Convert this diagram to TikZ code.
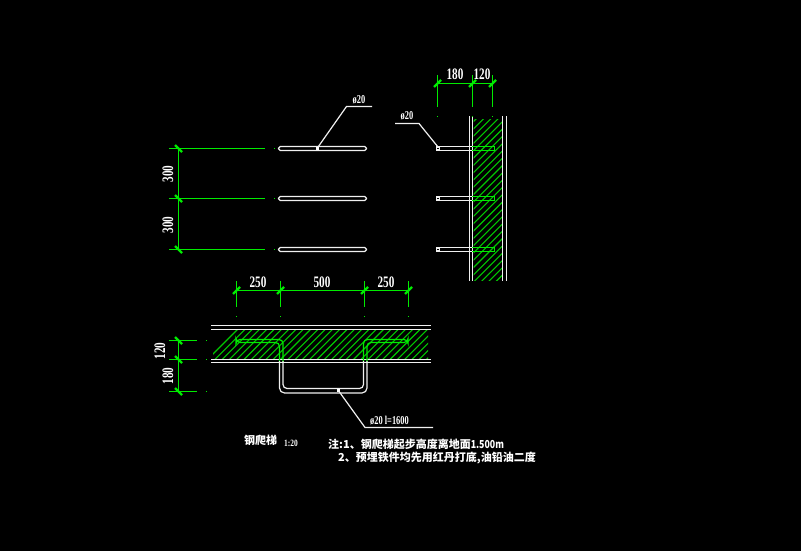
\documentclass[tikz,border=0pt]{standalone}
\usepackage{fontspec}
\setmainfont{Liberation Serif}
\newfontfamily\cjk{Noto Sans CJK SC}
\definecolor{cadgreen}{RGB}{0,235,0}
\definecolor{hatchgreen}{RGB}{0,200,0}
\definecolor{cadwhite}{RGB}{240,240,240}
\tikzset{
  x=1pt,y=-1pt,
  gline/.style={draw=cadgreen,line width=1.2pt},
  wline/.style={draw=cadwhite,line width=1.2pt},
  rebar/.style={draw=cadwhite,line width=1.2pt,rounded corners=1.8pt},
  tickmark/.style={draw=cadgreen,line width=2.4pt},
  hatchline/.style={draw=hatchgreen,line width=1.1pt},
  dimtext/.style={text=white,inner sep=0pt,font=\bfseries\fontsize{16}{16}\selectfont},
  smalltext/.style={text=white,inner sep=0pt,font=\bfseries\fontsize{12}{12}\selectfont},
  cjktext/.style={text=white,inner sep=0pt,anchor=west,font=\cjk\bfseries\fontsize{11}{13}\selectfont},
  dotmark/.style={fill=cadgreen,inner sep=0pt,minimum size=1.6pt,shape=rectangle},
}
\newcommand{\narrow}[1]{\scalebox{.7}[1]{#1}}
\newcommand{\ticku}[1]{\draw[tickmark] ([shift={(-3.5,3.5)}]#1) -- ([shift={(3.5,-3.5)}]#1);}
\newcommand{\tickd}[1]{\draw[tickmark] ([shift={(-3.5,-3.5)}]#1) -- ([shift={(3.5,3.5)}]#1);}
\begin{document}
\begin{tikzpicture}
\fill[black] (0,0) rectangle (801,551);
\useasboundingbox (0,0) rectangle (801,551);

% ---- left elevation
\foreach \n/\y in {a/148.5,b/198.5,c/249.5}{
  \coordinate (d\n) at (178.5,\y);
  \coordinate (e\n) at (169,\y);
  \coordinate (f\n) at (265,\y);
  \draw[gline] (e\n) -- (f\n);
  \node[dotmark] (p\n) at (274.5,\y) {};
  \tickd{d\n}
  \draw[rebar] (278.5,\y-2) rectangle (366.5,\y+2);
}
\draw[gline] (da) -- (dc);
\node[dimtext,rotate=90] (t300a) at (168,174) {\narrow{300}};
\node[dimtext,rotate=90] (t300b) at (168,225) {\narrow{300}};
\coordinate (l1a) at (317,148.5);
\coordinate (l1b) at (346.5,106.5);
\coordinate (l1c) at (372,106.5);
\draw[wline] (l1a) -- (l1b) -- (l1c);
\fill[white] (316,147.3) rectangle (318.5,149.8);
\node[smalltext] (phi1) at (359,99.5) {\narrow{ø20}};

% ---- right section (wall)
\begin{scope}
  \clip (473.5,119) rectangle (502,280.5);
  \foreach \k in {0,...,30}{
    \draw[hatchline] (470,125+\k*7.3) -- (505,125+\k*7.3-35);
  }
\end{scope}
\foreach \x in {469.5,472.5,502.5,506.5}{
  \draw[wline] (\x,116) -- (\x,280.5);
}
\foreach \n/\y in {a/148.5,b/198.5,c/249.5}{
  \draw[wline] (437,\y-2) -- (472,\y-2);
  \draw[wline] (437,\y+2) -- (472,\y+2);
  \draw[gline] (472,\y-2) -- (494.5,\y-2) -- (494.5,\y+2) -- (472,\y+2);
  \draw[wline,fill=black] (436.5,\y-1.5) rectangle (439.5,\y+1.5);
}
\foreach \n/\x in {a/437.5,b/472.5,c/492.5}{
  \coordinate (g\n) at (\x,83.5);
  \draw[gline] (\x,75) -- (\x,107);
  \node[dotmark] (q\n) at (\x,116.5) {};
  \ticku{g\n}
}
\draw[gline] (ga) -- (gc);
\node[dimtext] (t180a) at (455,74) {\narrow{180}};
\node[dimtext] (t120a) at (482,74) {\narrow{120}};
\coordinate (l2a) at (438,147);
\coordinate (l2b) at (419,123.5);
\coordinate (l2c) at (395,123.5);
\draw[wline] (l2a) -- (l2b) -- (l2c);
\node[smalltext] (phi2) at (407,116) {\narrow{ø20}};

% ---- bottom section (slab)
\begin{scope}
  \clip (213,330.5) rectangle (428,358.5);
  \foreach \k in {0,...,32}{
    \draw[hatchline] (205+\k*7.3,362) -- (240+\k*7.3,327);
  }
\end{scope}
\foreach \y in {325.5,329.5,359.5,362.5}{
  \draw[wline] (211,\y) -- (431,\y);
}
\begin{scope}
  \clip (200,330) rectangle (440,361);
  \draw[draw=cadgreen,line width=1.2pt,rounded corners=4pt]
    (236,339.5) -- (283,339.5) -- (283,388.5) -- (363.5,388.5) -- (363.5,339.5) -- (408,339.5)
    -- (408,342.5) -- (367,342.5) -- (367,393) -- (279.5,393) -- (279.5,342.5) -- (236,342.5) -- cycle;
\end{scope}
\begin{scope}
  \clip (200,361) rectangle (440,400);
  \draw[draw=cadwhite,line width=1.2pt,rounded corners=4pt]
    (283,339.5) -- (283,388.5) -- (363.5,388.5) -- (363.5,339.5);
  \draw[draw=cadwhite,line width=1.2pt,rounded corners=5pt]
    (367,342.5) -- (367,393) -- (279.5,393) -- (279.5,342.5);
\end{scope}
\foreach \n/\x in {a/236.5,b/280.5,c/364.5,d/408.5}{
  \coordinate (h\n) at (\x,290.5);
  \draw[gline] (\x,281) -- (\x,307);
  \node[dotmark] (r\n) at (\x,316.5) {};
  \ticku{h\n}
}
\draw[gline] (ha) -- (hd);
\node[dimtext] (t250a) at (258,282) {\narrow{250}};
\node[dimtext] (t500) at (322,282) {\narrow{500}};
\node[dimtext] (t250b) at (386,282) {\narrow{250}};
\foreach \n/\y in {a/340.5,b/359.5,c/391.5}{
  \coordinate (i\n) at (178.5,\y);
  \draw[gline] (169,\y) -- (197,\y);
  \node[dotmark] (s\n) at (206.5,\y) {};
  \tickd{i\n}
}
\draw[gline] (ia) -- (ic);
\node[dimtext,rotate=90] (t120b) at (160,351) {\narrow{120}};
\node[dimtext,rotate=90] (t180b) at (168,376) {\narrow{180}};
\coordinate (l3a) at (338,390);
\coordinate (l3b) at (365,427.5);
\coordinate (l3c) at (433,427.5);
\draw[wline] (l3a) -- (l3b) -- (l3c);
\fill[white] (337,389) rectangle (339.5,391.5);
\node[smalltext,anchor=west] (phi3) at (370,420.5) {\narrow{ø20 l=1600}};

% ---- notes
\node[cjktext] (title) at (244,440) {钢爬梯};
\node[smalltext,anchor=west] (scale) at (284,443) {\scalebox{.62}[.8]{1:20}};
\node[cjktext] (note1) at (328,444) {注:1、钢爬梯起步高度离地面\scalebox{.8}[1]{1.500m}};
\node[cjktext] (note2) at (338,458) {2、预埋铁件均先用红丹打底,油铅油二度};
\end{tikzpicture}
\end{document}
